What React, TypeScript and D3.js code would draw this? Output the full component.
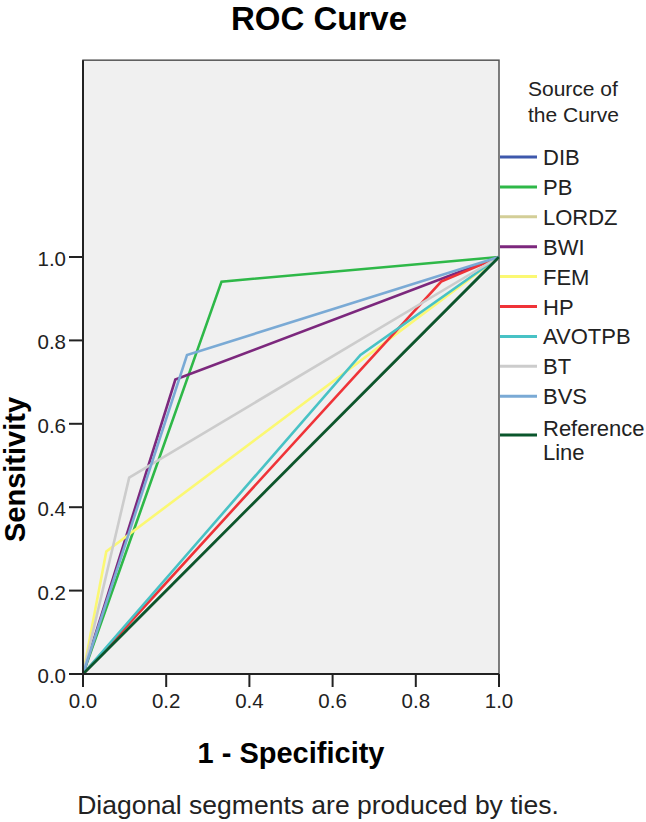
import React from "react";
import * as d3 from "d3";

type Pt = [number, number];

const seriesNames = ["DIB", "PB", "LORDZ", "BWI", "FEM", "HP", "AVOTPB", "BT", "BVS", "Reference Line"];
const seriesColors = ["#3E58AC", "#2EB848", "#D3CE97", "#7C287D", "#FBF873", "#EF3338", "#48C2C5", "#CCCCCC", "#7AAAD5", "#0A562C"];

const DIB: Pt[] = [[0, 0], [1, 1]];
const PB: Pt[] = [[0, 0], [0.333, 0.941], [1, 1]];
const LORDZ: Pt[] = [[0, 0], [1, 1]];
const BWI: Pt[] = [[0, 0], [0.222, 0.706], [1, 1]];
const FEM: Pt[] = [[0, 0], [0.056, 0.294], [1, 1]];
const HP: Pt[] = [[0, 0], [0.861, 0.941], [1, 1]];
const AVOTPB: Pt[] = [[0, 0], [0.667, 0.765], [1, 1]];
const BT: Pt[] = [[0, 0], [0.111, 0.471], [1, 1]];
const BVS: Pt[] = [[0, 0], [0.25, 0.765], [1, 1]];
const REF: Pt[] = [[0, 0], [1, 1]];

const seriesData: Pt[][] = [DIB, PB, LORDZ, BWI, FEM, HP, AVOTPB, BT, BVS, REF];

const xTicks = [0, 0.2, 0.4, 0.6, 0.8, 1.0];
const yTicks = [0, 0.2, 0.4, 0.6, 0.8, 1.0];
const yTopValue = 1.472;

const FONT = "'Liberation Sans', Arial, sans-serif";

export default function App() {
  const W = 646;
  const H = 822;
  const x = d3.scaleLinear().domain([0, 1]).range([83, 499]);
  const y = d3.scaleLinear().domain([0, 1]).range([674, 257]);
  const line = d3
    .line<Pt>()
    .x((d) => x(d[0]))
    .y((d) => y(d[1]));

  const plotTop = y(yTopValue);
  const fmt = d3.format(".1f");

  const legendY0 = 157;
  const legendStep = 29.9;

  return (
    <svg
      width={W}
      height={H}
      style={{ position: "absolute", left: 0, top: 0, background: "#fff" }}
      fontFamily={FONT}
    >
      <rect x={0} y={0} width={W} height={H} fill="#fff" />
      <text x={319} y={30} textAnchor="middle" fontSize={33} fontWeight="bold" fill="#000">
        ROC Curve
      </text>

      {/* plot area */}
      <rect x={x(0)} y={plotTop} width={x(1) - x(0)} height={y(0) - plotTop} fill="#F0F0F0" stroke="#555" strokeWidth={1.5} />

      {/* curves */}
      {seriesData.map((d, i) => (
        <path key={seriesNames[i]} d={line(d) || ""} fill="none" stroke={seriesColors[i]} strokeWidth={2.6} strokeLinejoin="miter" />
      ))}

      {/* axes */}
      <line x1={x(0)} x2={x(0)} y1={plotTop} y2={y(0)} stroke="#222" strokeWidth={2} />
      <line x1={x(0)} x2={x(1)} y1={y(0)} y2={y(0)} stroke="#222" strokeWidth={2} />
      {yTicks.map((t) => (
        <g key={"y" + t}>
          <line x1={x(0) - 14} x2={x(0)} y1={y(t)} y2={y(t)} stroke="#222" strokeWidth={2} />
          <text x={x(0) - 17} y={y(t) + 9} textAnchor="end" fontSize={20.5} fill="#222">
            {fmt(t)}
          </text>
        </g>
      ))}
      {xTicks.map((t) => (
        <g key={"x" + t}>
          <line x1={x(t)} x2={x(t)} y1={y(0)} y2={y(0) + 13} stroke="#222" strokeWidth={2} />
          <text x={x(t)} y={708} textAnchor="middle" fontSize={20.5} fill="#222">
            {fmt(t)}
          </text>
        </g>
      ))}

      <text x={291} y={763} textAnchor="middle" fontSize={29} fontWeight="bold" fill="#000">
        1 - Specificity
      </text>
      <text
        transform={`translate(25, ${(y(0) + y(1)) / 2 + 4}) rotate(-90)`}
        textAnchor="middle"
        fontSize={29}
        fontWeight="bold"
        fill="#000"
      >
        Sensitivity
      </text>

      <text x={318} y={814} textAnchor="middle" fontSize={26.5} fill="#222">
        Diagonal segments are produced by ties.
      </text>

      {/* legend */}
      <text x={528} y={96} fontSize={21} fill="#222">Source of</text>
      <text x={528} y={122} fontSize={21} fill="#222">the Curve</text>
      {seriesNames.map((name, i) => {
        const isRef = i === seriesNames.length - 1;
        const ly = legendY0 + i * legendStep + (isRef ? 9 : 0);
        return (
          <g key={"lg" + name}>
            <line x1={500} x2={537} y1={ly} y2={ly} stroke={seriesColors[i]} strokeWidth={3} />
            {isRef ? (
              <>
                <text x={543} y={ly + 1} fontSize={22} fill="#222">Reference</text>
                <text x={543} y={ly + 25} fontSize={22} fill="#222">Line</text>
              </>
            ) : (
              <text x={543} y={ly + 8} fontSize={22} fill="#222">{name}</text>
            )}
          </g>
        );
      })}
    </svg>
  );
}
